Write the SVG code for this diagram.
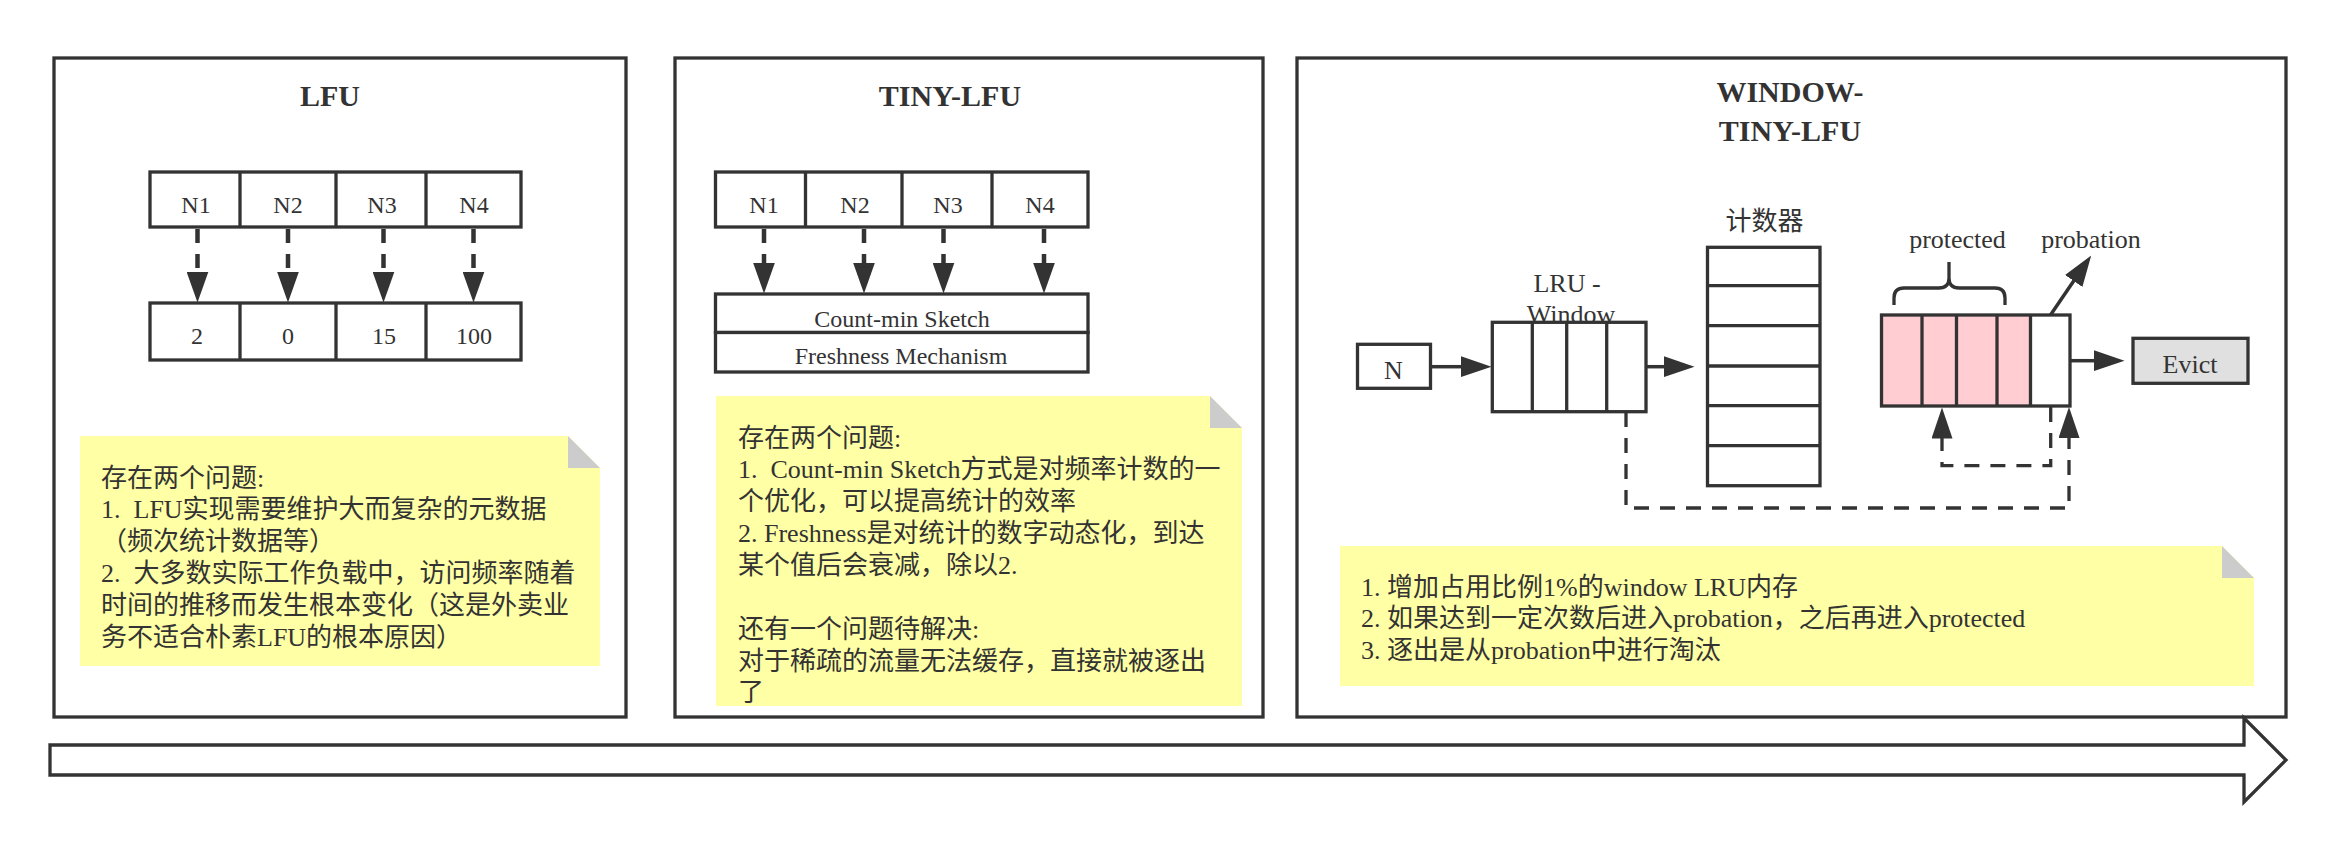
<svg xmlns="http://www.w3.org/2000/svg" width="2336" height="852" viewBox="0 0 2336 852">
<defs>
<style>
.panel{fill:#ffffff;stroke:#333333;stroke-width:3.3}
.box{fill:#ffffff;stroke:#333333;stroke-width:3.3}
.ln{fill:none;stroke:#333333;stroke-width:3.3}
.t{font-family:"Liberation Serif","Noto Sans CJK SC",serif;fill:#333333}
.title{font-size:30px;font-weight:bold;text-anchor:middle}
.lbl{font-size:24px;text-anchor:middle}
.lbl26{font-size:26px;text-anchor:middle}
.note{font-size:26px}
.dash1{fill:none;stroke:#333333;stroke-width:4.5;stroke-dasharray:14 11}
.dash2{fill:none;stroke:#333333;stroke-width:3.3;stroke-dasharray:15 11}
.solid{fill:none;stroke:#333333;stroke-width:3.5}
.noteb{fill:#FFFFA5}
.fold{fill:#CCCCCC}
</style>
<marker id="ah" viewBox="0 0 31 22" markerWidth="31" markerHeight="22" refX="0.5" refY="11" orient="auto" markerUnits="userSpaceOnUse">
<path d="M0,0 L31,11 L0,22 Z" fill="#333333"/>
</marker>
<marker id="ah2" viewBox="0 0 31 21" markerWidth="31" markerHeight="21" refX="0.5" refY="10.5" orient="auto" markerUnits="userSpaceOnUse">
<path d="M0,0 L31,10.5 L0,21 Z" fill="#333333"/>
</marker>
</defs>
<rect width="2336" height="852" fill="#ffffff"/>

<!-- Panels -->
<g id="panel-lfu"><rect class="panel" x="54" y="58" width="572" height="659"/></g>
<g id="panel-tinylfu"><rect class="panel" x="675" y="58" width="588" height="659"/></g>
<g id="panel-wtinylfu"><rect class="panel" x="1297" y="58" width="989" height="659"/></g>

<!-- Timeline arrow -->
<g id="timeline">
<path d="M50,745 L2244,745 L2244,718 L2286,760 L2244,802 L2244,775 L50,775 Z" fill="#ffffff" stroke="#333333" stroke-width="3.3" stroke-linejoin="miter"/>
</g>

<!-- Titles -->
<g id="title-lfu"><text class="t title" x="330" y="105.5">LFU</text></g>
<g id="title-tinylfu"><text class="t title" x="950" y="105.5">TINY-LFU</text></g>
<g id="title-wtinylfu"><text class="t title" x="1790" y="101.5">WINDOW-</text><text class="t title" x="1790" y="140.5">TINY-LFU</text></g>

<!-- LFU keys -->
<g id="lfu-keys">
<rect class="box" x="150" y="172" width="371" height="55"/>
<line class="ln" x1="240" y1="172" x2="240" y2="227"/>
<line class="ln" x1="336" y1="172" x2="336" y2="227"/>
<line class="ln" x1="426" y1="172" x2="426" y2="227"/>
<text class="t lbl" x="196" y="212.5">N1</text>
<text class="t lbl" x="288" y="212.5">N2</text>
<text class="t lbl" x="382" y="212.5">N3</text>
<text class="t lbl" x="474" y="212.5">N4</text>
</g>
<g id="lfu-values">
<rect class="box" x="150" y="303" width="371" height="57"/>
<line class="ln" x1="240" y1="303" x2="240" y2="360"/>
<line class="ln" x1="336" y1="303" x2="336" y2="360"/>
<line class="ln" x1="426" y1="303" x2="426" y2="360"/>
<text class="t lbl" x="197" y="344">2</text>
<text class="t lbl" x="288" y="344">0</text>
<text class="t lbl" x="384" y="344">15</text>
<text class="t lbl" x="474" y="344">100</text>
</g>

<!-- LFU note -->
<g id="lfu-note">
<path class="noteb" d="M80,436 L568,436 L600,468 L600,666 L80,666 Z"/>
<path class="fold" d="M568,436 L568,468 L600,468 Z"/>
<text class="t note" x="101" y="486.5">存在两个问题:</text>
<text class="t note" x="101" y="518" xml:space="preserve">1.  LFU实现需要维护大而复杂的元数据</text>
<text class="t note" x="101" y="550">（频次统计数据等）</text>
<text class="t note" x="101" y="582" xml:space="preserve">2.  大多数实际工作负载中，访问频率随着</text>
<text class="t note" x="101" y="614">时间的推移而发生根本变化（这是外卖业</text>
<text class="t note" x="101" y="646">务不适合朴素LFU的根本原因）</text>
</g>

<!-- TINY-LFU keys -->
<g id="tiny-keys">
<rect class="box" x="715.5" y="172" width="372.5" height="55"/>
<line class="ln" x1="805.5" y1="172" x2="805.5" y2="227"/>
<line class="ln" x1="902" y1="172" x2="902" y2="227"/>
<line class="ln" x1="992" y1="172" x2="992" y2="227"/>
<text class="t lbl" x="764" y="212.5">N1</text>
<text class="t lbl" x="855" y="212.5">N2</text>
<text class="t lbl" x="948" y="212.5">N3</text>
<text class="t lbl" x="1040" y="212.5">N4</text>
</g>
<g id="count-min-sketch">
<rect class="box" x="715.5" y="294" width="372.5" height="38.5"/>
<text class="t lbl" x="902" y="326.5">Count-min Sketch</text>
</g>
<g id="freshness">
<rect class="box" x="715.5" y="332.5" width="372.5" height="39.5"/>
<text class="t lbl" x="901" y="364">Freshness Mechanism</text>
</g>

<!-- TINY-LFU note -->
<g id="tiny-note">
<path class="noteb" d="M716,396 L1210,396 L1242,428 L1242,706 L716,706 Z"/>
<path class="fold" d="M1210,396 L1210,428 L1242,428 Z"/>
<text class="t note" x="738" y="446.5">存在两个问题:</text>
<text class="t note" x="738" y="478" xml:space="preserve">1.  Count-min Sketch方式是对频率计数的一</text>
<text class="t note" x="738" y="509.5">个优化，可以提高统计的效率</text>
<text class="t note" x="738" y="541.5">2. Freshness是对统计的数字动态化，到达</text>
<text class="t note" x="738" y="573.5">某个值后会衰减，除以2.</text>
<text class="t note" x="738" y="637.5">还有一个问题待解决:</text>
<text class="t note" x="738" y="669.5">对于稀疏的流量无法缓存，直接就被逐出</text>
<text class="t note" x="738" y="701">了</text>
</g>

<!-- WINDOW-TINY-LFU nodes -->
<g id="w-n">
<rect class="box" x="1357.5" y="344.3" width="73" height="44"/>
<text class="t lbl26" x="1393.5" y="379">N</text>
</g>
<g id="w-lru-window">
<text class="t lbl26" x="1567" y="291.5">LRU -</text>
<text class="t lbl26" x="1571" y="323">Window</text>
<rect class="box" x="1492.3" y="322.3" width="153.7" height="89.4"/>
<line class="ln" x1="1532.3" y1="322.3" x2="1532.3" y2="411.7"/>
<line class="ln" x1="1566.7" y1="322.3" x2="1566.7" y2="411.7"/>
<line class="ln" x1="1606.7" y1="322.3" x2="1606.7" y2="411.7"/>
</g>
<g id="w-counter">
<text class="t lbl26" x="1764.5" y="230">计数器</text>
<rect class="box" x="1707.5" y="247.3" width="112.5" height="238.4"/>
<line class="ln" x1="1707.5" y1="285.7" x2="1820" y2="285.7"/>
<line class="ln" x1="1707.5" y1="325.7" x2="1820" y2="325.7"/>
<line class="ln" x1="1707.5" y1="366" x2="1820" y2="366"/>
<line class="ln" x1="1707.5" y1="405.7" x2="1820" y2="405.7"/>
<line class="ln" x1="1707.5" y1="445.7" x2="1820" y2="445.7"/>
</g>
<g id="w-segments">
<rect x="1881.5" y="315" width="149" height="91" fill="#FFCDD2"/>
<rect x="1881.5" y="315" width="188.5" height="91" fill="none" stroke="#333333" stroke-width="3.3"/>
<line class="ln" x1="1922" y1="315" x2="1922" y2="406"/>
<line class="ln" x1="1956.5" y1="315" x2="1956.5" y2="406"/>
<line class="ln" x1="1997" y1="315" x2="1997" y2="406"/>
<line class="ln" x1="2030.5" y1="315" x2="2030.5" y2="406"/>
</g>
<g id="w-protected">
<path class="ln" d="M1894,305 L1894,298 Q1894,288 1904,288 L1939,288 Q1949,288 1949,278 L1949,262 M1949,278 Q1949,288 1959,288 L1995,288 Q2005,288 2005,298 L2005,305"/>
<text class="t lbl26" x="1957.5" y="248.3">protected</text>
</g>
<g id="w-probation">
<text class="t lbl26" x="2091" y="248.3">probation</text>
</g>
<g id="w-evict">
<rect x="2133" y="338.3" width="115" height="45" fill="#E0E0E0" stroke="#333333" stroke-width="3.3"/>
<text class="t lbl26" x="2190" y="373">Evict</text>
</g>

<!-- WINDOW note -->
<g id="w-note">
<path class="noteb" d="M1340,546 L2222,546 L2254,578 L2254,686 L1340,686 Z"/>
<path class="fold" d="M2222,546 L2222,578 L2254,578 Z"/>
<text class="t note" x="1361" y="596">1. 增加占用比例1%的window LRU内存</text>
<text class="t note" x="1361" y="627">2. 如果达到一定次数后进入probation，之后再进入protected</text>
<text class="t note" x="1361" y="659">3. 逐出是从probation中进行淘汰</text>
</g>

<!-- Connectors -->
<g id="connectors">
<line class="dash1" x1="197.5" y1="229" x2="197.5" y2="272" marker-end="url(#ah)"/>
<line class="dash1" x1="288" y1="229" x2="288" y2="272" marker-end="url(#ah)"/>
<line class="dash1" x1="383.5" y1="229" x2="383.5" y2="272" marker-end="url(#ah)"/>
<line class="dash1" x1="473.5" y1="229" x2="473.5" y2="272" marker-end="url(#ah)"/>

<line class="dash1" x1="764" y1="229" x2="764" y2="263" marker-end="url(#ah)"/>
<line class="dash1" x1="864" y1="229" x2="864" y2="263" marker-end="url(#ah)"/>
<line class="dash1" x1="943.5" y1="229" x2="943.5" y2="263" marker-end="url(#ah)"/>
<line class="dash1" x1="1044" y1="229" x2="1044" y2="263" marker-end="url(#ah)"/>

<line class="solid" x1="1431" y1="366.7" x2="1461" y2="366.7" marker-end="url(#ah2)"/>
<line class="solid" x1="1646" y1="366.7" x2="1664" y2="366.7" marker-end="url(#ah2)"/>
<line class="solid" x1="2070" y1="360.7" x2="2094" y2="360.7" marker-end="url(#ah2)"/>
<line class="solid" x1="2050.5" y1="315" x2="2074" y2="280.6" marker-end="url(#ah2)"/>

<path class="dash2" d="M1626,412 L1626,508 L2069,508 L2069,437.5" marker-end="url(#ah2)"/>
<path class="dash2" d="M2050.7,407 L2050.7,465.7 L1942,465.7 L1942,438" marker-end="url(#ah2)"/>
</g>
</svg>
